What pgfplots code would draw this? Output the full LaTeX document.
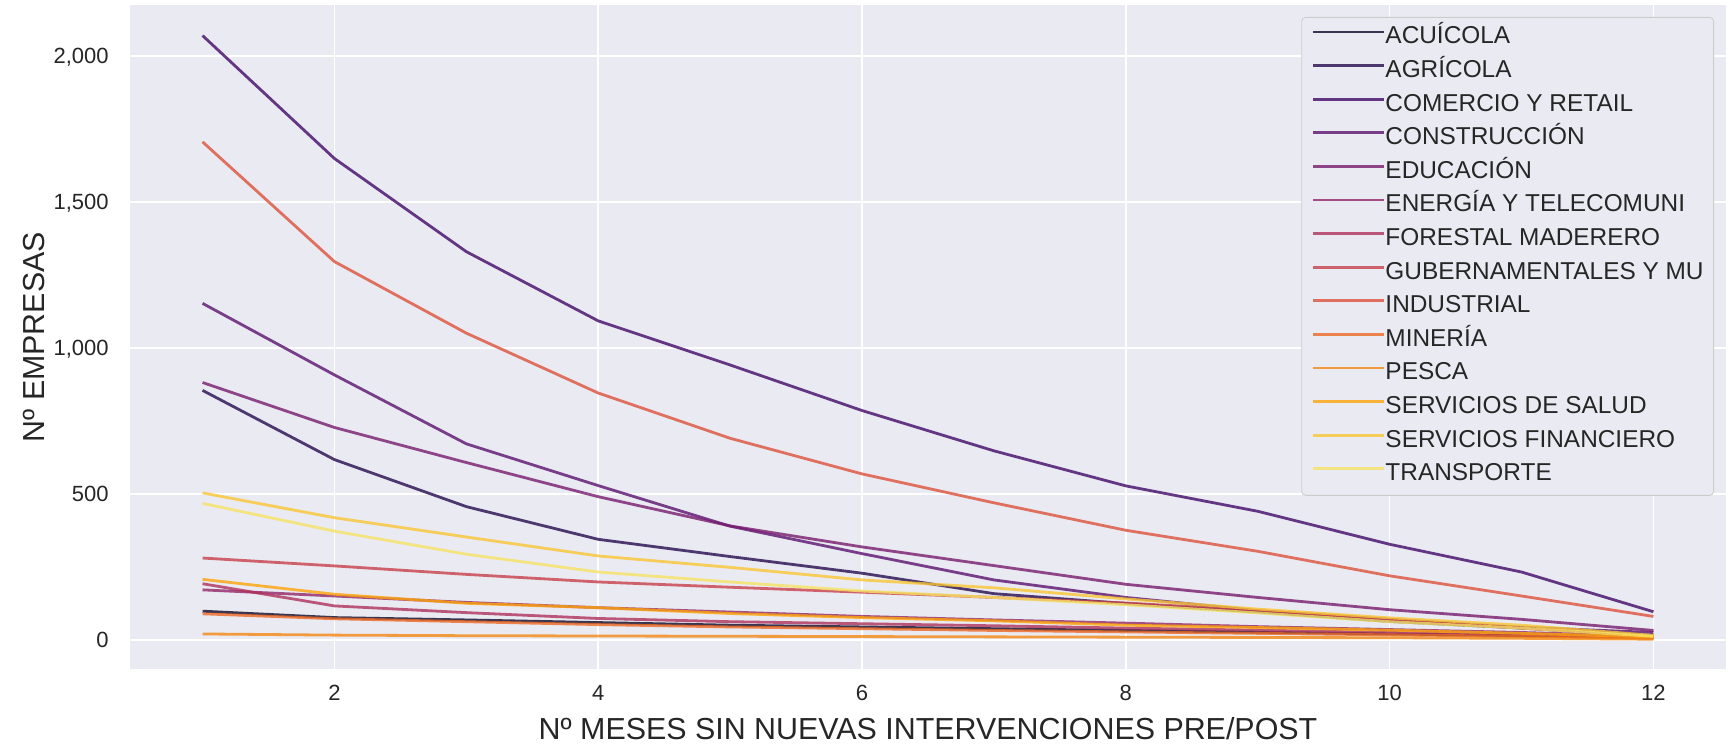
\documentclass[border=0pt]{standalone}
\usepackage{fontspec}
\setmainfont{Liberation Sans}
\usepackage{pgfplots}
\pgfplotsset{compat=1.18}
\definecolor{c1}{HTML}{0E0828}
\definecolor{c2}{HTML}{250C4D}
\definecolor{c3}{HTML}{420A68}
\definecolor{c4}{HTML}{5C126E}
\definecolor{c5}{HTML}{781C6D}
\definecolor{c6}{HTML}{932667}
\definecolor{c7}{HTML}{AD315B}
\definecolor{c8}{HTML}{C73F4B}
\definecolor{c9}{HTML}{DD513A}
\definecolor{c10}{HTML}{ED6925}
\definecolor{c11}{HTML}{F58712}
\definecolor{c12}{HTML}{FCA50A}
\definecolor{c13}{HTML}{F8C632}
\definecolor{c14}{HTML}{F6E363}
\definecolor{bgax}{HTML}{EAEAF2}
\definecolor{txt}{HTML}{262626}
\begin{document}
\begin{tikzpicture}
\path[fill=white] (-65pt,-39.5pt) rectangle (799.5pt,334.5pt);
\begin{axis}[
  at={(0,0)}, anchor=south west,
  scale only axis, width=798pt, height=331.75pt,
  xmin=0.45, xmax=12.55, ymin=-100, ymax=2172,
  axis background/.style={fill=bgax},
  axis line style={draw=none},
  major tick length=0pt,
  grid=major, major grid style={white, line width=0.8pt},
  xtick={2,4,6,8,10,12},
  ytick={0,500,1000,1500,2000},
  /pgf/number format/assume math mode=true,
  /pgf/number format/1000 sep={,},
  tick label style={font=\fontsize{11}{13}\selectfont, text=txt},
  xticklabel style={anchor=center, yshift=-12pt, inner sep=0pt},
  yticklabel style={anchor=east, inner sep=0pt, xshift=-10.5pt, text depth=0pt},
  xlabel={Nº MESES SIN NUEVAS INTERVENCIONES PRE/POST},
  ylabel={Nº EMPRESAS},
  every axis x label/.style={at={(axis description cs:0.5,-0.0904)}, anchor=center, font=\fontsize{15.2}{18}\selectfont, text=txt},
  every axis y label/.style={at={(axis description cs:-0.0602,0.5)}, anchor=center, rotate=90, font=\fontsize{15.2}{18}\selectfont, text=txt},
  legend style={at={(axis description cs:0.9925,0.9827)}, anchor=north east,
    fill=bgax, draw=black!20, rounded corners=2pt,
    font=\fontsize{12.2}{14}\selectfont, text=txt,
    inner xsep=5pt, inner ysep=4.3pt, row sep=4.8pt, column sep=0pt,
    nodes={inner sep=0pt, text height=9pt, text depth=3pt}},
  legend cell align=left,
  legend image code/.code={\draw[#1] (0pt,3pt) -- (26pt,3pt); \path (26pt,3pt) -- (35.5pt,3pt);},
  every axis plot/.append style={line width=1.4pt, draw opacity=0.8},
]
\addplot[c1] coordinates {(1,98) (2,76) (3,68) (4,59) (5,50) (6,44) (7,38) (8,32) (9,26) (10,20) (11,14) (12,6)};
\addlegendentry{ACUÍCOLA}
\addplot[c2] coordinates {(1,854) (2,617) (3,456) (4,344) (5,285) (6,228) (7,158) (8,124) (9,95) (10,63) (11,40) (12,15)};
\addlegendentry{AGRÍCOLA}
\addplot[c3] coordinates {(1,2069) (2,1648) (3,1329) (4,1092) (5,941) (6,785) (7,647) (8,527) (9,440) (10,327) (11,232) (12,96)};
\addlegendentry{COMERCIO Y RETAIL}
\addplot[c4] coordinates {(1,1152) (2,907) (3,671) (4,528) (5,389) (6,295) (7,205) (8,145) (9,100) (10,70) (11,43) (12,25)};
\addlegendentry{CONSTRUCCIÓN}
\addplot[c5] coordinates {(1,881) (2,727) (3,607) (4,490) (5,390) (6,318) (7,254) (8,190) (9,145) (10,103) (11,70) (12,32)};
\addlegendentry{EDUCACIÓN}
\addplot[c6] coordinates {(1,171) (2,150) (3,128) (4,110) (5,95) (6,80) (7,68) (8,57) (9,45) (10,35) (11,25) (12,12)};
\addlegendentry{ENERGÍA Y TELECOMUNI}
\addplot[c7] coordinates {(1,192) (2,116) (3,93) (4,73) (5,62) (6,55) (7,48) (8,40) (9,33) (10,25) (11,18) (12,8)};
\addlegendentry{FORESTAL MADERERO}
\addplot[c8] coordinates {(1,280) (2,253) (3,224) (4,198) (5,180) (6,163) (7,145) (8,126) (9,100) (10,70) (11,40) (12,12)};
\addlegendentry{GUBERNAMENTALES Y MU}
\addplot[c9] coordinates {(1,1705) (2,1295) (3,1050) (4,845) (5,690) (6,568) (7,469) (8,375) (9,303) (10,219) (11,150) (12,80)};
\addlegendentry{INDUSTRIAL}
\addplot[c10] coordinates {(1,89) (2,72) (3,62) (4,52) (5,44) (6,38) (7,32) (8,27) (9,22) (10,17) (11,12) (12,5)};
\addlegendentry{MINERÍA}
\addplot[c11] coordinates {(1,20) (2,16) (3,14) (4,13) (5,12) (6,11) (7,10) (8,9) (9,8) (10,7) (11,5) (12,2)};
\addlegendentry{PESCA}
\addplot[c12] coordinates {(1,207) (2,156) (3,125) (4,110) (5,90) (6,76) (7,65) (8,50) (9,42) (10,33) (11,22) (12,10)};
\addlegendentry{SERVICIOS DE SALUD}
\addplot[c13] coordinates {(1,503) (2,418) (3,352) (4,287) (5,248) (6,205) (7,178) (8,140) (9,105) (10,75) (11,50) (12,15)};
\addlegendentry{SERVICIOS FINANCIERO}
\addplot[c14] coordinates {(1,467) (2,372) (3,293) (4,232) (5,198) (6,167) (7,145) (8,120) (9,92) (10,62) (11,40) (12,12)};
\addlegendentry{TRANSPORTE}
\end{axis}
\pgfresetboundingbox
\path[use as bounding box] (-65pt,-39.5pt) rectangle (799.5pt,334.5pt);
\end{tikzpicture}
\end{document}
